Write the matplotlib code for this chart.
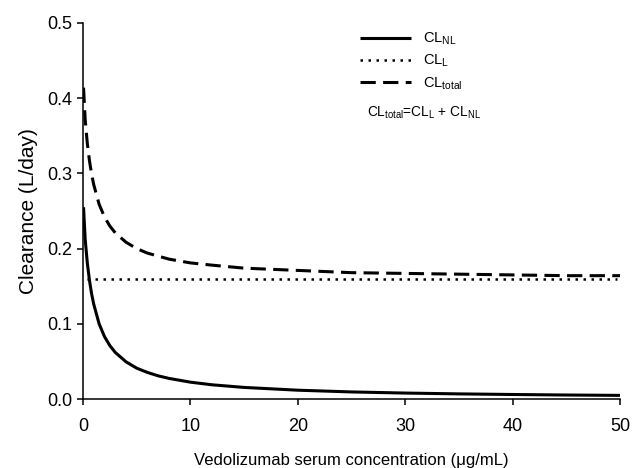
import matplotlib
matplotlib.use("Agg")
import matplotlib.pyplot as plt

plt.rcParams['font.family'] = ['Liberation Sans', 'DejaVu Sans']
plt.rcParams['mathtext.fontset'] = 'custom'
plt.rcParams['mathtext.rm'] = 'Liberation Sans'
plt.rcParams['mathtext.it'] = 'Liberation Sans'

# Serum concentration (ug/mL)
conc = [0.05, 0.2, 0.4, 0.6, 0.8, 1.0, 1.5, 2.0, 2.5, 3.0, 4.0, 5.0, 6.0, 7.0,
        8.0, 10.0, 12.0, 15.0, 20.0, 25.0, 30.0, 35.0, 40.0, 45.0, 50.0]
# Nonlinear clearance (L/day)
cl_nl = [0.255, 0.213, 0.181, 0.158, 0.140, 0.126, 0.100, 0.083, 0.071, 0.062,
         0.0495, 0.041, 0.0353, 0.0308, 0.0274, 0.0224, 0.0189, 0.0154, 0.0117,
         0.0094, 0.0079, 0.0068, 0.0060, 0.0053, 0.0048]
# Linear clearance (L/day)
conc_l = [0.4, 49.7]
cl_l = [0.159, 0.159]
# Total clearance (L/day)
cl_total = [0.414, 0.372, 0.340, 0.317, 0.299, 0.285, 0.259, 0.242, 0.230, 0.221,
            0.2085, 0.200, 0.194, 0.190, 0.186, 0.181, 0.178, 0.174, 0.171,
            0.168, 0.167, 0.166, 0.165, 0.164, 0.164]

xticks = [0, 10, 20, 30, 40, 50]
yticks = [0.0, 0.1, 0.2, 0.3, 0.4, 0.5]

fig = plt.figure(figsize=(6.32, 4.68), dpi=100)
ax = fig.add_axes([83/632, 1-399/468, (620-83)/632, (399-23)/468])

ax.plot(conc, cl_nl, color='black', lw=2.2, solid_capstyle='butt',
        label=r'CL$_{\mathrm{NL}}$')
ax.plot(conc_l, cl_l, color='black', lw=1.8, linestyle=(0, (1, 2.2)),
        label=r'CL$_{\mathrm{L}}$')
ax.plot(conc, cl_total, color='black', lw=2.2, linestyle=(0, (5, 2.4)),
        label=r'CL$_{\mathrm{total}}$')

ax.set_xlim(0, 50)
ax.set_ylim(0, 0.5)
ax.set_xticks(xticks)
ax.set_yticks(yticks)
ax.set_xticklabels([str(v) for v in xticks])
ax.set_yticklabels([f'{v:.1f}' for v in yticks])
ax.spines['top'].set_visible(False)
ax.spines['right'].set_visible(False)
for s in ('left', 'bottom'):
    ax.spines[s].set_linewidth(1.1)
ax.tick_params(axis='both', direction='out', length=4.5, width=1.1,
               labelsize=13, colors='black')
ax.tick_params(axis='x', pad=9)
ax.tick_params(axis='y', pad=3)

ax.set_xlabel('Vedolizumab serum concentration (\u03bcg/mL)', fontsize=12, labelpad=13)
ax.set_ylabel('Clearance (L/day)', fontsize=15, labelpad=7)

leg = ax.legend(loc='upper left', bbox_to_anchor=(0.505, 0.995), frameon=False,
                fontsize=10.5, handlelength=3.5, handletextpad=0.8,
                labelspacing=0.4, borderaxespad=0)

ax.text(0.528, 0.762, r'CL$_{\mathrm{total}}$=CL$_{\mathrm{L}}$ + CL$_{\mathrm{NL}}$',
        transform=ax.transAxes, fontsize=9.8, va='center', ha='left')

fig.savefig('out.png', dpi=100)
